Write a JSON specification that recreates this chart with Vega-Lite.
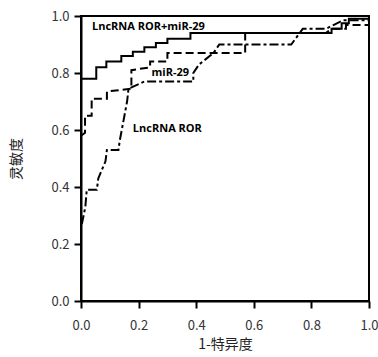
{
  "$schema": "https://vega.github.io/schema/vega-lite/v6.json",
  "width": 288,
  "height": 285,
  "autosize": {"type": "none"},
  "padding": {"left": 81, "top": 16, "right": 9, "bottom": 56},
  "background": "white",
  "config": {
    "view": {"stroke": "black", "strokeWidth": 2},
    "font": "Noto Sans CJK JP"
  },
  "datasets": {
    "curves": [
      {"s": "combo", "i": 0, "x": 0, "y": 0.78},
      {"s": "combo", "i": 1, "x": 0.053, "y": 0.78},
      {"s": "combo", "i": 2, "x": 0.053, "y": 0.82},
      {"s": "combo", "i": 3, "x": 0.088, "y": 0.82},
      {"s": "combo", "i": 4, "x": 0.088, "y": 0.84},
      {"s": "combo", "i": 5, "x": 0.14, "y": 0.84},
      {"s": "combo", "i": 6, "x": 0.14, "y": 0.86},
      {"s": "combo", "i": 7, "x": 0.18, "y": 0.86},
      {"s": "combo", "i": 8, "x": 0.18, "y": 0.875},
      {"s": "combo", "i": 9, "x": 0.22, "y": 0.875},
      {"s": "combo", "i": 10, "x": 0.22, "y": 0.89},
      {"s": "combo", "i": 11, "x": 0.26, "y": 0.89},
      {"s": "combo", "i": 12, "x": 0.26, "y": 0.905},
      {"s": "combo", "i": 13, "x": 0.30, "y": 0.905},
      {"s": "combo", "i": 14, "x": 0.30, "y": 0.92},
      {"s": "combo", "i": 15, "x": 0.38, "y": 0.92},
      {"s": "combo", "i": 16, "x": 0.38, "y": 0.94},
      {"s": "combo", "i": 17, "x": 0.87, "y": 0.94},
      {"s": "combo", "i": 18, "x": 0.87, "y": 0.955},
      {"s": "combo", "i": 19, "x": 0.905, "y": 0.955},
      {"s": "combo", "i": 20, "x": 0.905, "y": 0.975},
      {"s": "combo", "i": 21, "x": 0.93, "y": 0.975},
      {"s": "combo", "i": 22, "x": 0.93, "y": 0.99},
      {"s": "combo", "i": 23, "x": 1.0, "y": 0.99},

      {"s": "mir", "i": 0, "x": 0, "y": 0.58},
      {"s": "mir", "i": 1, "x": 0.014, "y": 0.59},
      {"s": "mir", "i": 2, "x": 0.014, "y": 0.65},
      {"s": "mir", "i": 3, "x": 0.037, "y": 0.65},
      {"s": "mir", "i": 4, "x": 0.037, "y": 0.71},
      {"s": "mir", "i": 5, "x": 0.09, "y": 0.71},
      {"s": "mir", "i": 6, "x": 0.09, "y": 0.735},
      {"s": "mir", "i": 7, "x": 0.175, "y": 0.745},
      {"s": "mir", "i": 8, "x": 0.175, "y": 0.81},
      {"s": "mir", "i": 9, "x": 0.24, "y": 0.82},
      {"s": "mir", "i": 10, "x": 0.24, "y": 0.84},
      {"s": "mir", "i": 11, "x": 0.30, "y": 0.84},
      {"s": "mir", "i": 12, "x": 0.30, "y": 0.87},
      {"s": "mir", "i": 13, "x": 0.57, "y": 0.87},
      {"s": "mir", "i": 14, "x": 0.57, "y": 0.94},
      {"s": "mir", "i": 15, "x": 0.85, "y": 0.94},
      {"s": "mir", "i": 16, "x": 0.87, "y": 0.955},
      {"s": "mir", "i": 17, "x": 0.92, "y": 0.955},
      {"s": "mir", "i": 18, "x": 0.92, "y": 0.968},
      {"s": "mir", "i": 19, "x": 1.0, "y": 0.968},

      {"s": "ror", "i": 0, "x": 0.003, "y": 0.27},
      {"s": "ror", "i": 1, "x": 0.015, "y": 0.33},
      {"s": "ror", "i": 2, "x": 0.02, "y": 0.39},
      {"s": "ror", "i": 3, "x": 0.055, "y": 0.39},
      {"s": "ror", "i": 4, "x": 0.06, "y": 0.43},
      {"s": "ror", "i": 5, "x": 0.085, "y": 0.49},
      {"s": "ror", "i": 6, "x": 0.09, "y": 0.53},
      {"s": "ror", "i": 7, "x": 0.13, "y": 0.53},
      {"s": "ror", "i": 8, "x": 0.135, "y": 0.565},
      {"s": "ror", "i": 9, "x": 0.16, "y": 0.70},
      {"s": "ror", "i": 10, "x": 0.165, "y": 0.745},
      {"s": "ror", "i": 11, "x": 0.22, "y": 0.77},
      {"s": "ror", "i": 12, "x": 0.39, "y": 0.77},
      {"s": "ror", "i": 13, "x": 0.39, "y": 0.80},
      {"s": "ror", "i": 14, "x": 0.41, "y": 0.83},
      {"s": "ror", "i": 15, "x": 0.46, "y": 0.87},
      {"s": "ror", "i": 16, "x": 0.48, "y": 0.90},
      {"s": "ror", "i": 17, "x": 0.73, "y": 0.90},
      {"s": "ror", "i": 18, "x": 0.77, "y": 0.955},
      {"s": "ror", "i": 19, "x": 0.85, "y": 0.955},
      {"s": "ror", "i": 20, "x": 0.88, "y": 0.97},
      {"s": "ror", "i": 21, "x": 0.91, "y": 0.985},
      {"s": "ror", "i": 22, "x": 1.0, "y": 0.985}
    ],
    "labels": [
      {"t": "LncRNA ROR+miR-29", "x": 0.038, "y": 0.96},
      {"t": "miR-29", "x": 0.245, "y": 0.80},
      {"t": "LncRNA ROR", "x": 0.18, "y": 0.605}
    ]
  },
  "layer": [
    {
      "data": {"name": "curves"},
      "mark": {"type": "line", "color": "black", "strokeWidth": 2, "clip": true},
      "encoding": {
        "x": {
          "field": "x", "type": "quantitative",
          "scale": {"domain": [0, 1], "nice": false},
          "axis": {
            "title": "1-特异度", "values": [0, 0.2, 0.4, 0.6, 0.8, 1.0], "format": ".1f",
            "labelFlush": false, "labelOverlap": false, "labelBound": false,
            "grid": false, "domainColor": "black", "domainWidth": 2,
            "tickColor": "black", "tickWidth": 2, "tickSize": 7,
            "labelFontSize": 13, "labelColor": "#333", "labelPadding": 11,
            "titleFontSize": 14, "titleFontWeight": "normal", "titleColor": "#222", "titlePadding": 5
          }
        },
        "y": {
          "field": "y", "type": "quantitative",
          "scale": {"domain": [0, 1], "nice": false},
          "axis": {
            "title": "灵敏度", "values": [0, 0.2, 0.4, 0.6, 0.8, 1.0], "format": ".1f",
            "labelFlush": false, "labelOverlap": false,
            "grid": false, "domainColor": "black", "domainWidth": 2,
            "tickColor": "black", "tickWidth": 2, "tickSize": 7,
            "labelFontSize": 13, "labelColor": "#333", "labelPadding": 5,
            "titleFontSize": 14, "titleFontWeight": "normal", "titleColor": "#222", "titlePadding": 27
          }
        },
        "detail": {"field": "s"},
        "order": {"field": "i", "type": "quantitative"},
        "strokeDash": {
          "field": "s", "type": "nominal", "legend": null,
          "scale": {"domain": ["combo", "mir", "ror"], "range": [[1, 0], [8, 4], [9, 3, 3, 3]]}
        }
      }
    },
    {
      "data": {"name": "labels"},
      "mark": {"type": "text", "align": "left", "baseline": "middle", "fontSize": 11, "fontWeight": "bold", "font": "Open Sans", "color": "black"},
      "encoding": {
        "x": {"field": "x", "type": "quantitative"},
        "y": {"field": "y", "type": "quantitative"},
        "text": {"field": "t"}
      }
    }
  ]
}
